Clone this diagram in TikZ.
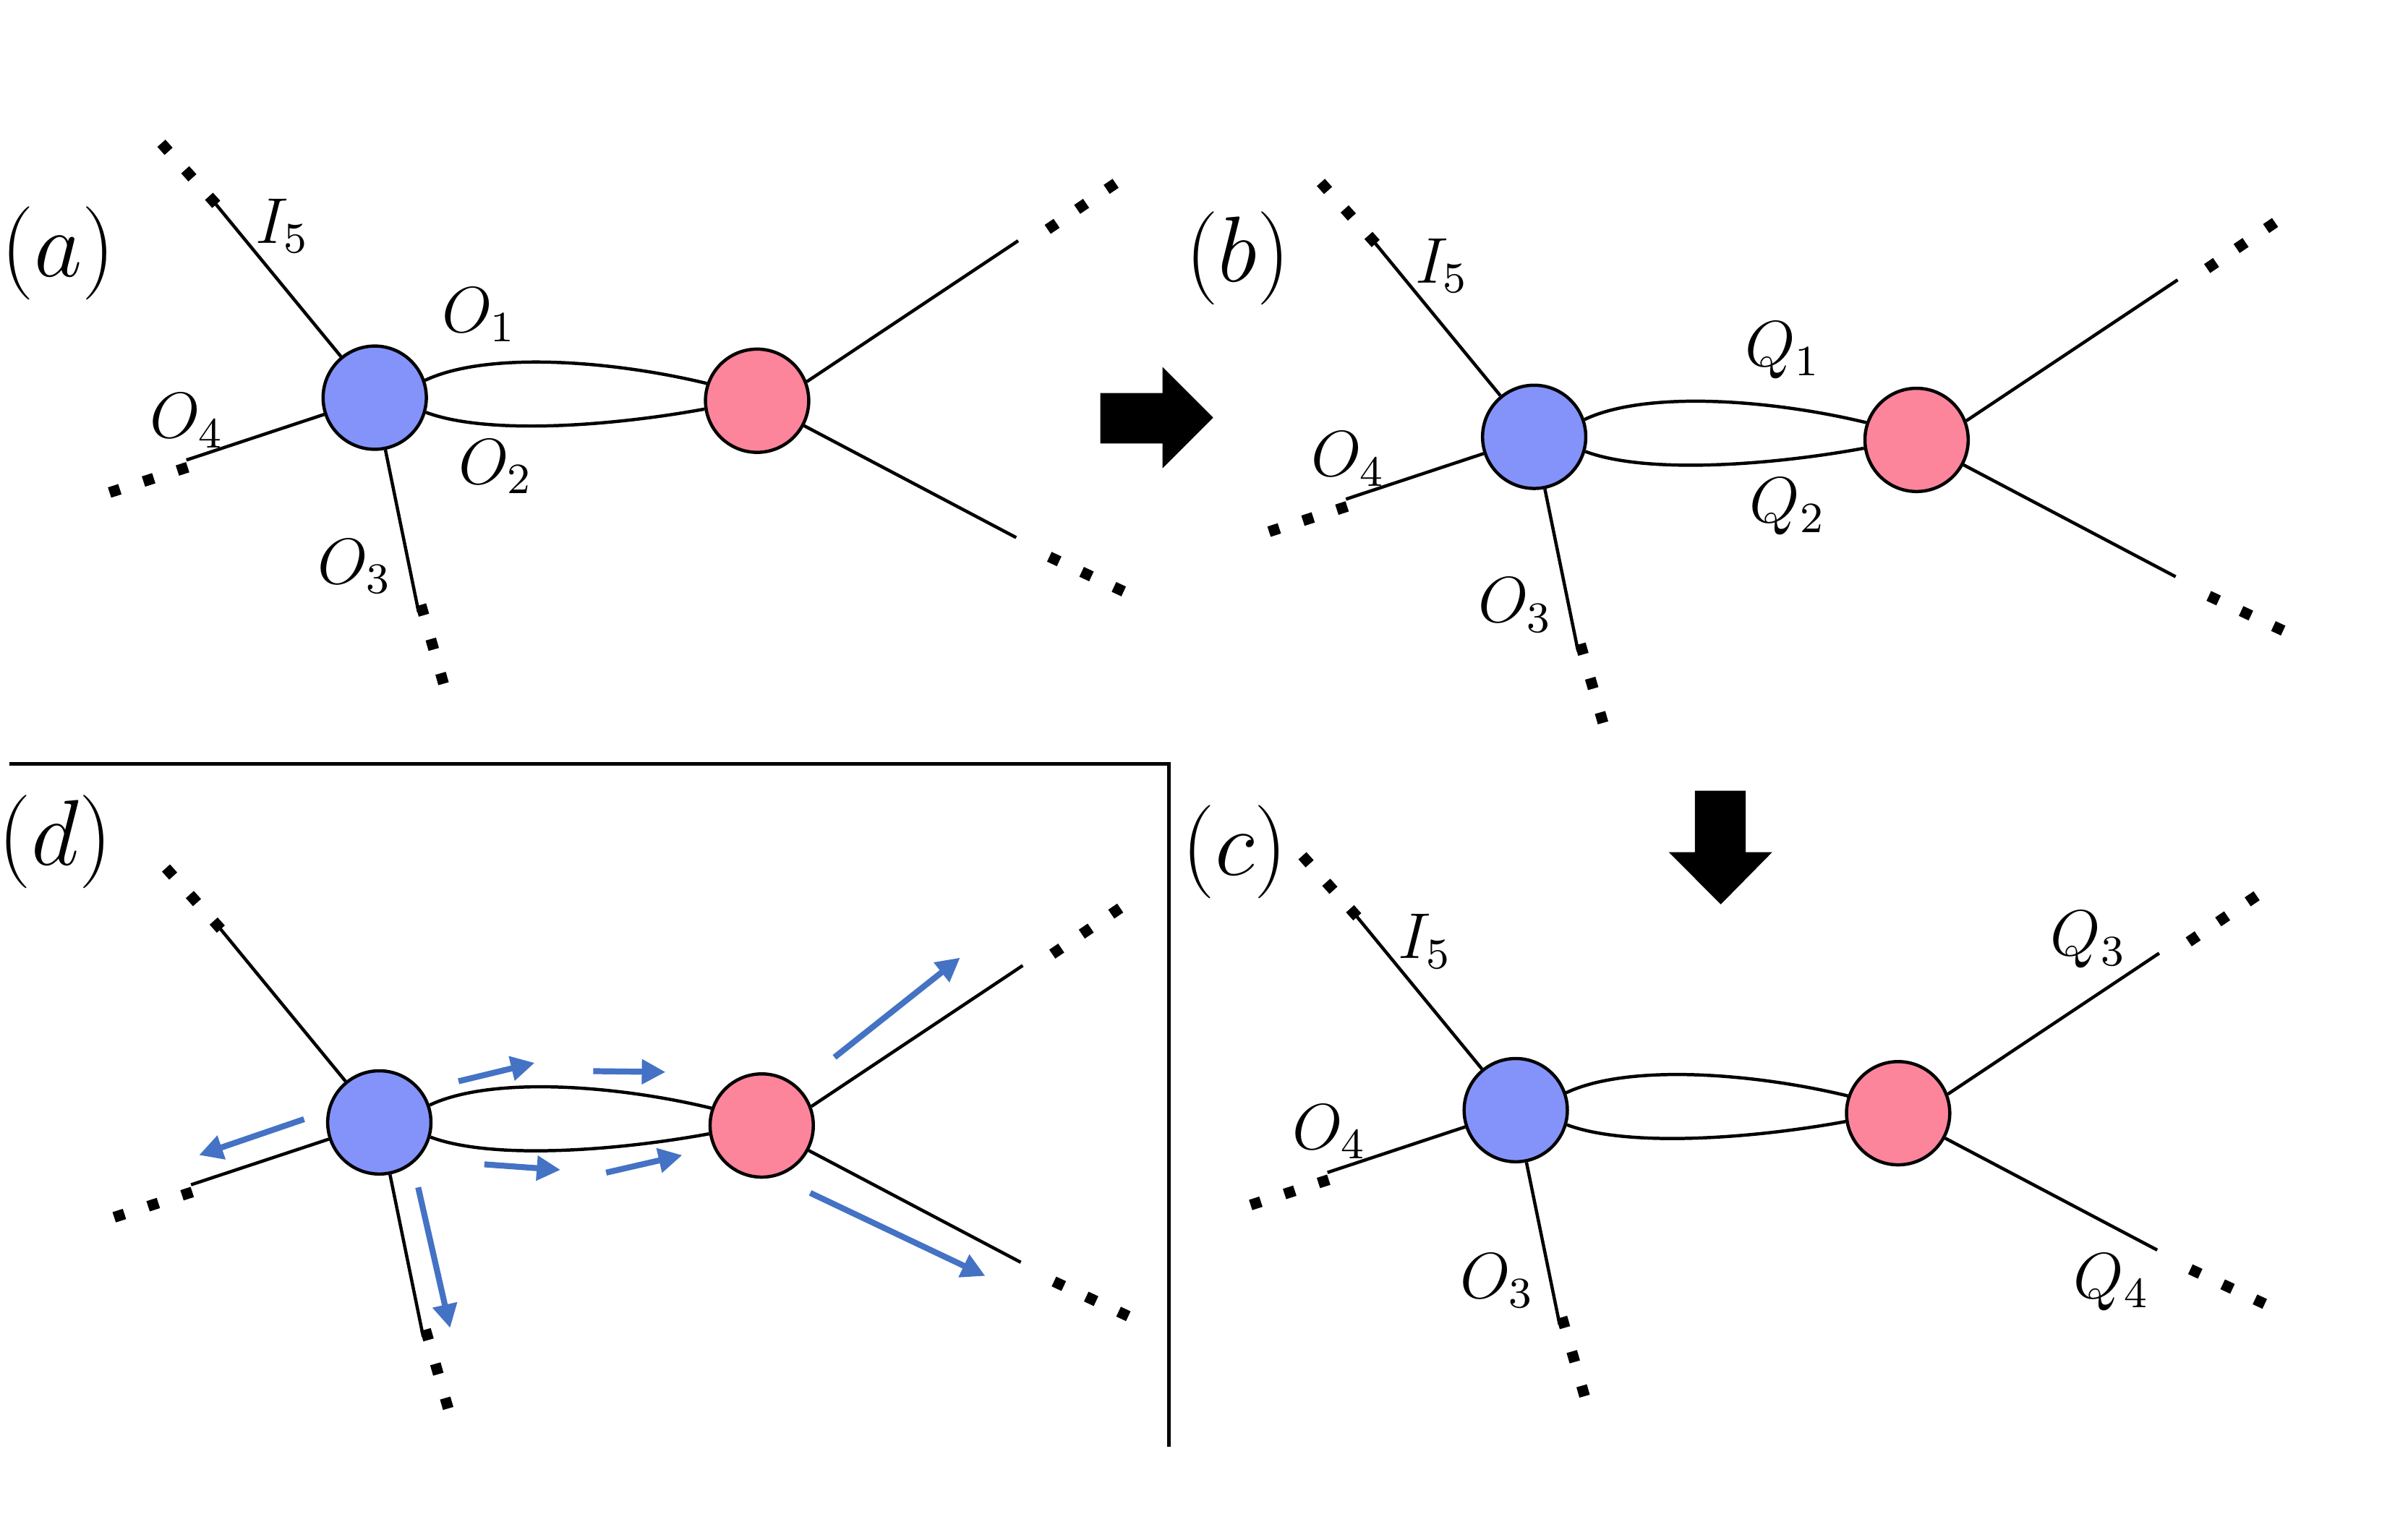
\documentclass[tikz,border=0pt]{standalone}
\usetikzlibrary{arrows.meta}
\definecolor{blobBlue}{HTML}{8493FA}
\definecolor{blobPink}{HTML}{FC859B}
\definecolor{flowBlue}{HTML}{4472C4}

\begin{document}
\begin{tikzpicture}[x=0.01cm, y=-0.01cm, line width=0.6pt,
    blob/.style={circle, draw=black, inner sep=0pt, minimum size=0.672cm},
    legdots/.style={line width=2pt, dash pattern=on 2pt off 4.6pt},
    flow/.style={flowBlue, line width=1.1pt, -{Triangle[length=4.4pt, width=4.4pt]}},
    lbl/.style={font=\fontsize{11.6}{14}\selectfont, inner sep=0pt},
    panel/.style={font=\fontsize{17}{20}\selectfont, inner sep=0pt},
    pics/vertexpair/.style={code={
      \node[blob, fill=blobBlue] (-blue) at (0,0) {};
      \node[blob, fill=blobPink] (-red) at (249,2) {};
      \coordinate (-i5) at (-105.5,-128.5);
      \coordinate (-o4) at (-122.6,40.6);
      \coordinate (-o3) at (28.6,139.6);
      \coordinate (-ru) at (419,-102.2);
      \coordinate (-rd) at (417.7,91.1);
      \draw (-blue.19) .. controls +(40,-19) and +(-62,-15) .. (-red.161);
      \draw (-blue.-16) .. controls +(40,15) and +(-60,11) .. (-red.-171);
      \draw (-blue) -- (-i5);
      \draw (-blue) -- (-o4);
      \draw (-blue) -- (-o3);
      \draw (-red.21) -- (-ru);
      \draw (-red.-28) -- (-rd);
      % the legs run on
      \draw[legdots] (-103.2,-125.9) -- (-139.2,-166.0);
      \draw[legdots] (-121.8,45.3) -- (-173,61.9);
      \draw[legdots] (30.1,134.9) -- (44.9,186.5);
      \draw[legdots] (438.2,-109.6) -- (482.6,-139.7);
      \draw[legdots] (439.3,103.6) -- (487.7,126.2);
    }}]
  \useasboundingbox (0,0) rectangle (1568,986);

  % (a)
  \pic (A) at (244,259) {vertexpair};
  \node[panel] (a-tag) at (38,165) {$(a)$};
  \node[lbl] (a-i5) at (184,147) {$I_5$};
  \node[lbl] (a-o1) at (312,205) {$O_1$};
  \node[lbl] (a-o2) at (323,304) {$O_2$};
  \node[lbl] (a-o4) at (122,274) {$O_4$};
  \node[lbl] (a-o3) at (231,369) {$O_3$};

  \fill (716.5,256) -- (757,256) -- (757,239) -- (790,272) -- (757,305)
    -- (757,288.8) -- (716.5,288.8) -- cycle;

  % (b)
  \pic (B) at (999,284.5) {vertexpair};
  \node[panel] (b-tag) at (806,168) {$(b)$};
  \node[lbl] (b-i5) at (939,173) {$I_5$};
  \node[lbl] (b-q1) at (1161,228) {$Q_1$};
  \node[lbl] (b-q2) at (1164,330) {$Q_2$};
  \node[lbl] (b-o4) at (878,299) {$O_4$};
  \node[lbl] (b-o3) at (987,394) {$O_3$};

  \fill (1103.7,515) -- (1136.7,515) -- (1136.7,555) -- (1154,555) -- (1120.5,589)
    -- (1086.7,555) -- (1103.7,555) -- cycle;

  % (c)
  \pic (C) at (987,723) {vertexpair};
  \node[panel] (c-tag) at (804,555) {$(c)$};
  \node[lbl] (c-i5) at (928,613) {$I_5$};
  \node[lbl] (c-o4) at (866,737) {$O_4$};
  \node[lbl] (c-o3) at (975,834) {$O_3$};
  \node[lbl] (c-q3) at (1360,612) {$Q_3$};
  \node[lbl] (c-q4) at (1375,835) {$Q_4$};

  % (d)
  \draw[line width=0.7pt] (6,497.5) -- (761,497.5) -- (761,942);
  \pic (D) at (247,731) {vertexpair};
  \node[panel] (d-tag) at (36,548) {$(d)$};
  \begin{scope}[shift={(247,731)}]
    \draw[flow] (-49,-2.1) -- (-117.4,21.3);
    \draw[flow] (25.3,42.3) -- (46.1,133.9);
    \draw[flow] (51.6,-26.8) -- (101.2,-38.8);
    \draw[flow] (139.3,-33.4) -- (186.4,-32.8);
    \draw[flow] (68.4,27.3) -- (118,30.9);
    \draw[flow] (147.7,32.7) -- (197.3,21.3);
    \draw[flow] (296.4,-42.4) -- (378.2,-107.3);
    \draw[flow] (280.6,45.9) -- (394.6,100);
  \end{scope}
\end{tikzpicture}
\end{document}
